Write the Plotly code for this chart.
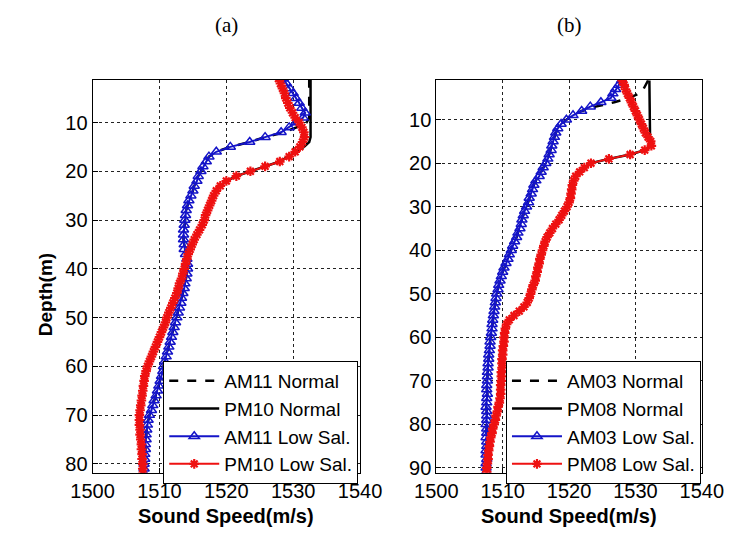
import plotly.graph_objects as go

# ---- Panel (a): stations AM11 / PM10, depth 1..82 m ----
depth_a = list(range(1, 83))
am11_low = [1528.5, 1529.0, 1529.5, 1530.0, 1530.4, 1530.9, 1531.3, 1531.8, 1531.5, 1530.4,
            1529.4, 1528.2, 1525.8, 1523.5, 1520.6, 1518.5, 1517.4, 1517.0, 1516.5, 1516.2,
            1515.8, 1515.6, 1515.2, 1515.0, 1514.7, 1514.4, 1514.2, 1514.0, 1513.9, 1513.8,
            1513.7, 1513.6, 1513.6, 1513.6, 1513.7, 1513.7, 1513.9, 1514.1, 1514.2, 1514.2,
            1514.1, 1514.0, 1513.8, 1513.7, 1513.5, 1513.3, 1513.2, 1513.0, 1512.8, 1512.6,
            1512.4, 1512.2, 1512.0, 1511.8, 1511.6, 1511.4, 1511.2, 1511.0, 1510.8, 1510.6,
            1510.5, 1510.3, 1510.1, 1509.9, 1509.7, 1509.5, 1509.2, 1509.0, 1508.8, 1508.5,
            1508.3, 1508.2, 1508.1, 1508.0, 1508.0, 1507.9, 1507.9, 1507.8, 1507.8, 1507.7,
            1507.7, 1507.7]
pm10_low = [1527.8, 1528.1, 1528.4, 1528.7, 1528.9, 1529.2, 1529.5, 1529.9, 1530.3, 1530.9,
            1531.3, 1531.6, 1531.7, 1531.4, 1531.0, 1530.3, 1529.4, 1528.0, 1525.8, 1523.6,
            1521.5, 1520.0, 1519.1, 1518.5, 1518.1, 1517.8, 1517.5, 1517.2, 1516.9, 1516.7,
            1516.4, 1516.0, 1515.6, 1515.2, 1514.9, 1514.6, 1514.3, 1514.1, 1513.9, 1513.7,
            1513.5, 1513.3, 1513.0, 1512.8, 1512.6, 1512.3, 1512.0, 1511.7, 1511.4, 1511.1,
            1510.9, 1510.6, 1510.3, 1510.0, 1509.7, 1509.4, 1509.1, 1508.8, 1508.5, 1508.2,
            1508.0, 1507.8, 1507.7, 1507.6, 1507.5, 1507.4, 1507.3, 1507.2, 1507.1, 1507.0,
            1507.0, 1507.0, 1507.1, 1507.1, 1507.2, 1507.3, 1507.3, 1507.4, 1507.4, 1507.5,
            1507.5, 1507.5]
# normal-salinity profiles differ only in the surface layer
am11_norm_top = [1532.4, 1532.4, 1532.4, 1532.4, 1532.4, 1532.4, 1532.4, 1532.4, 1532.4, 1532.0,
                 1530.5, 1528.6]
pm10_norm_top = [1532.6, 1532.6, 1532.6, 1532.6, 1532.6, 1532.6, 1532.6, 1532.6, 1532.6, 1532.6,
                 1532.6, 1532.6, 1532.6, 1532.4, 1531.6, 1530.4, 1529.3]
am11_norm = am11_norm_top + am11_low[len(am11_norm_top):]
pm10_norm = pm10_norm_top + pm10_low[len(pm10_norm_top):]

# ---- Panel (b): stations AM03 / PM08, depth 1..91 m ----
depth_b = list(range(1, 92))
am03_low = [1527.9, 1527.5, 1527.0, 1526.6, 1526.3, 1524.8, 1523.2, 1521.9, 1520.6, 1519.6,
            1518.8, 1518.3, 1518.0, 1517.8, 1517.6, 1517.4, 1517.3, 1517.0, 1516.8, 1516.5,
            1516.1, 1515.8, 1515.5, 1515.0, 1514.7, 1514.5, 1514.3, 1514.0, 1513.9, 1513.6,
            1513.3, 1513.1, 1512.9, 1512.8, 1512.6, 1512.3, 1512.1, 1511.8, 1511.5, 1511.3,
            1511.0, 1510.8, 1510.5, 1510.2, 1510.0, 1509.8, 1509.6, 1509.4, 1509.3, 1509.1,
            1509.0, 1508.9, 1508.8, 1508.7, 1508.6, 1508.5, 1508.4, 1508.4, 1508.3, 1508.2,
            1508.1, 1508.1, 1508.0, 1507.9, 1507.9, 1507.8, 1507.8, 1507.7, 1507.7, 1507.7,
            1507.6, 1507.6, 1507.7, 1507.6, 1507.6, 1507.5, 1507.6, 1507.6, 1507.6, 1507.5,
            1507.6, 1507.6, 1507.5, 1507.6, 1507.6, 1507.5, 1507.5, 1507.6, 1507.5, 1507.5,
            1507.5]
pm08_low = [1528.0, 1528.3, 1528.5, 1528.8, 1529.1, 1529.4, 1529.7, 1530.0, 1530.3, 1530.6,
            1530.9, 1531.2, 1531.5, 1531.9, 1532.3, 1532.4, 1531.4, 1529.2, 1526.0, 1523.3,
            1522.3, 1521.6, 1521.0, 1520.7, 1520.5, 1520.4, 1520.3, 1520.2, 1520.0, 1519.7,
            1519.3, 1518.9, 1518.5, 1518.0, 1517.5, 1517.1, 1516.7, 1516.4, 1516.2, 1516.0,
            1515.8, 1515.6, 1515.5, 1515.3, 1515.2, 1515.0, 1514.9, 1514.6, 1514.4, 1514.2,
            1514.0, 1513.7, 1513.2, 1512.5, 1511.7, 1511.0, 1510.6, 1510.4, 1510.3, 1510.2,
            1510.2, 1510.1, 1510.0, 1510.0, 1509.9, 1509.9, 1509.9, 1509.8, 1509.8, 1509.8,
            1509.7, 1509.7, 1509.7, 1509.6, 1509.5, 1509.3, 1509.2, 1509.0, 1508.9, 1508.7,
            1508.5, 1508.4, 1508.2, 1508.1, 1508.0, 1507.9, 1507.8, 1507.8, 1507.7, 1507.6,
            1507.6]
am03_norm_top = [1531.9, 1531.6, 1531.2, 1530.6, 1529.0, 1526.8, 1524.0]
pm08_norm_top = [1532.1, 1532.1, 1532.1, 1532.1, 1532.1, 1532.1, 1532.1, 1532.1, 1532.1, 1532.1,
                 1532.1, 1532.1, 1532.1, 1532.2, 1532.3]
am03_norm = am03_norm_top + am03_low[len(am03_norm_top):]
pm08_norm = pm08_norm_top + pm08_low[len(pm08_norm_top):]

speed_ticks = [1500, 1510, 1520, 1530, 1540]
depth_ticks_a = [10, 20, 30, 40, 50, 60, 70, 80]
depth_ticks_b = [10, 20, 30, 40, 50, 60, 70, 80, 90]

W, H = 753, 537
BLUE = "#1414c8"
RED = "#ee1111"
FONT = "Liberation Sans"


def px(v):
    return v / W


def py(v):
    return 1 - v / H


fig = go.Figure()


def add_panel(depth, am_norm, pm_norm, am_low, pm_low, names, xa, ya, leg):
    fig.add_trace(go.Scatter(x=am_norm, y=depth, mode="lines", name=names[0],
                             line=dict(color="black", width=2.5, dash="dash"),
                             xaxis=xa, yaxis=ya, legend=leg))
    fig.add_trace(go.Scatter(x=pm_norm, y=depth, mode="lines", name=names[1],
                             line=dict(color="black", width=2.5),
                             xaxis=xa, yaxis=ya, legend=leg))
    fig.add_trace(go.Scatter(x=am_low, y=depth, mode="lines+markers", name=names[2],
                             line=dict(color=BLUE, width=2),
                             marker=dict(symbol="triangle-up-open", size=9, color=BLUE,
                                         line=dict(width=1.5, color=BLUE)),
                             xaxis=xa, yaxis=ya, legend=leg))
    fig.add_trace(go.Scatter(x=pm_low, y=depth, mode="lines+markers", name=names[3],
                             line=dict(color=RED, width=2),
                             marker=dict(symbol="asterisk-open", size=8, color=RED,
                                         line=dict(width=2.2, color=RED)),
                             xaxis=xa, yaxis=ya, legend=leg))


add_panel(depth_a, am11_norm, pm10_norm, am11_low, pm10_low,
          ["AM11 Normal", "PM10 Normal", "AM11 Low Sal.", "PM10 Low Sal."], "x", "y", "legend")
add_panel(depth_b, am03_norm, pm08_norm, am03_low, pm08_low,
          ["AM03 Normal", "PM08 Normal", "AM03 Low Sal.", "PM08 Low Sal."], "x2", "y2", "legend2")

ax_common = dict(showline=True, mirror=True, linecolor="black", linewidth=1,
                 showgrid=True, gridcolor="#222222", griddash="dot", gridwidth=1,
                 zeroline=False, ticks="inside", ticklen=5, tickcolor="black",
                 tickfont=dict(family=FONT, size=20, color="black"))

ydom = [py(478), py(81)]
fig.update_layout(
    width=W, height=H,
    margin=dict(l=0, r=0, t=0, b=0),
    paper_bgcolor="white", plot_bgcolor="white",
    xaxis=dict(domain=[px(75), px(359)], range=[1500, 1540], tickvals=speed_ticks,
               anchor="y", **ax_common),
    yaxis=dict(domain=ydom, range=[81.8, 1.3], tickvals=depth_ticks_a, anchor="x", **ax_common),
    xaxis2=dict(domain=[px(440), px(722)], range=[1500, 1540], tickvals=speed_ticks,
                anchor="y2", **ax_common),
    yaxis2=dict(domain=ydom, range=[91.1, 0.9], tickvals=depth_ticks_b, anchor="x2", **ax_common),
    showlegend=True,
    legend=dict(x=px(150), y=py(365), xanchor="left", yanchor="top",
                bgcolor="white", bordercolor="black", borderwidth=1,
                font=dict(family=FONT, size=19, color="black"),
                itemwidth=50, tracegroupgap=0),
    legend2=dict(x=px(514), y=py(365), xanchor="left", yanchor="top",
                 bgcolor="white", bordercolor="black", borderwidth=1,
                 font=dict(family=FONT, size=19, color="black"),
                 itemwidth=50, tracegroupgap=0),
)

annots = [
    dict(text="(a)", x=px(217), y=py(25), font=dict(family="Liberation Serif", size=21)),
    dict(text="(b)", x=px(581), y=py(25), font=dict(family="Liberation Serif", size=21)),
    dict(text="<b>Sound Speed(m/s)</b>", x=px(217), y=py(522), font=dict(family=FONT, size=20)),
    dict(text="<b>Sound Speed(m/s)</b>", x=px(581), y=py(522), font=dict(family=FONT, size=20)),
    dict(text="<b>Depth(m)</b>", x=px(25), y=py(298), textangle=-90, font=dict(family=FONT, size=19)),
]
for a in annots:
    a["font"]["color"] = "black"
    fig.add_annotation(xref="paper", yref="paper", xanchor="center", yanchor="middle",
                       showarrow=False, **a)

fig.write_html("out.html")
